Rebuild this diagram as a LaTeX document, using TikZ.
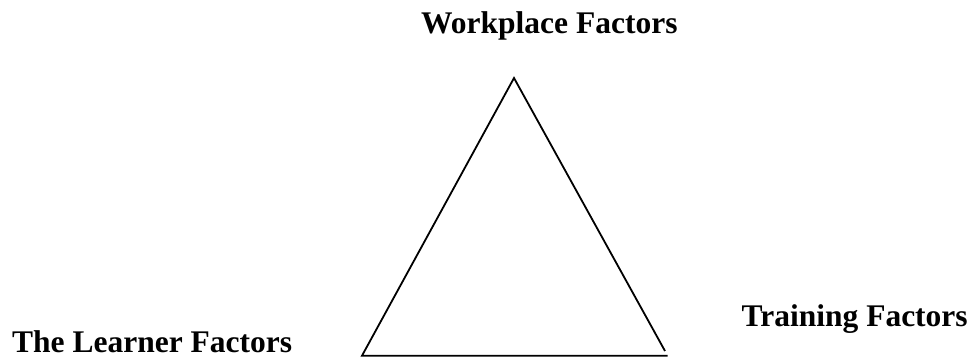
\documentclass[tikz,border=0pt]{standalone}
\usepackage{fontspec}
\setmainfont{Liberation Serif}
\tikzset{
  lbl/.style={font=\fontsize{31.5}{36}\selectfont\bfseries, inner sep=0pt, anchor=base west},
  edge/.style={line width=1.8pt, line join=miter}
}
\begin{document}
\begin{tikzpicture}[x=1pt,y=1pt]
\useasboundingbox (0,0) rectangle (976,-358);
\node[lbl] (work) at (421,-34) {Workplace Factors};
\node[lbl] (learn) at (12,-352.5) {The Learner Factors};
\node[lbl] (train) at (741.5,-326) {Training Factors};
\coordinate (A) at (514,-78);
\coordinate (B) at (362,-355.7);
\coordinate (C) at (665,-351);
\coordinate (D) at (667.5,-355.7);
\draw[edge] (C) -- (A) -- (B) -- (D);
\end{tikzpicture}
\end{document}
